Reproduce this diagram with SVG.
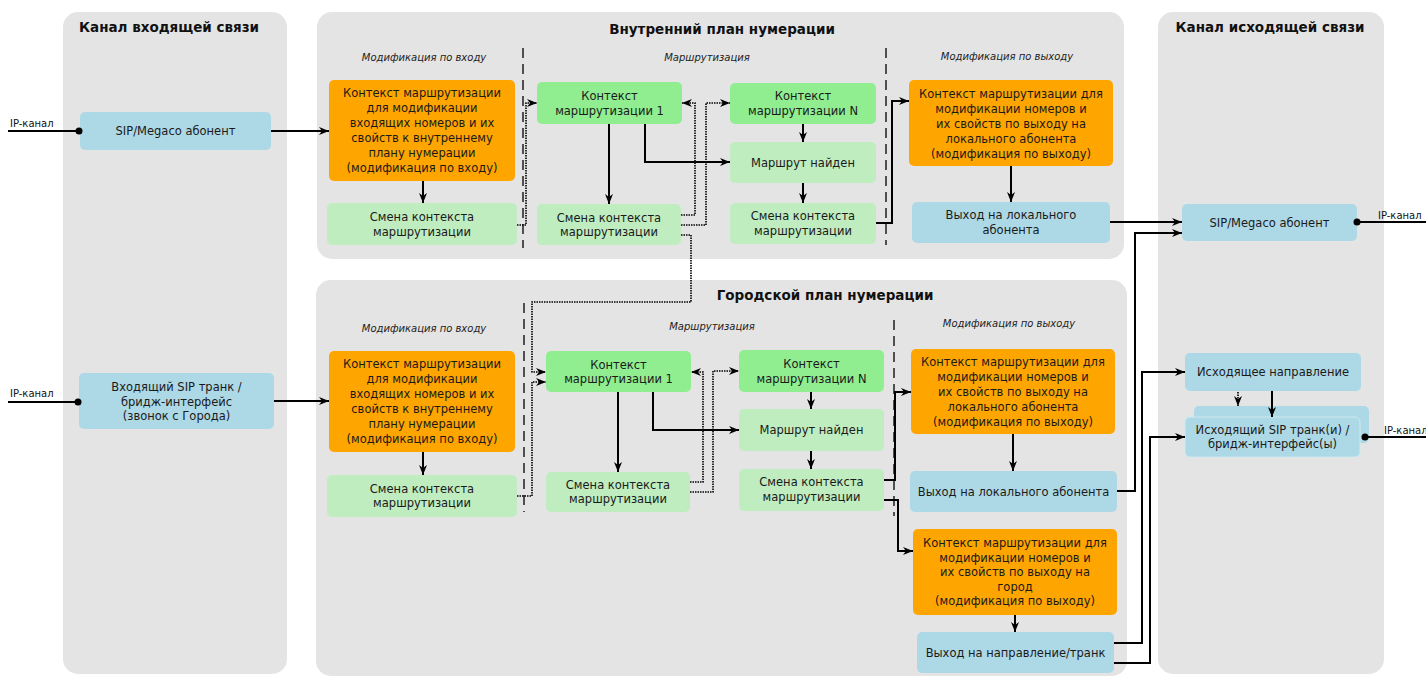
<svg xmlns="http://www.w3.org/2000/svg" width="1426" height="679" viewBox="0 0 1426 679">
  <defs>
    <style>
      .panel { fill: #e4e4e4; }
      .title { font-family: "DejaVu Sans", "Liberation Sans", sans-serif; font-weight: bold; font-size: 13.5px; fill: #111; text-anchor: middle; }
      .sect { font-family: "DejaVu Sans", "Liberation Sans", sans-serif; font-style: italic; font-size: 10px; fill: #222; text-anchor: middle; }
      .lbl { font-family: "DejaVu Sans", "Liberation Sans", sans-serif; font-size: 11.5px; fill: #1a1a1a; text-anchor: middle; }
      .ip { font-family: "DejaVu Sans", "Liberation Sans", sans-serif; font-size: 10px; fill: #111; }
      .orange { fill: #ffa500; }
      .green { fill: #90ee90; }
      .pale { fill: #c0edc0; }
      .blue { fill: #add8e6; }
      .sep { stroke: #111; stroke-width: 1.4; stroke-dasharray: 10 6; fill: none; }
      .wire { stroke: #000; stroke-width: 2; fill: none; }
      .flow { stroke: #000; stroke-width: 2; fill: none; marker-end: url(#arr); }
      .jump { stroke: #000; stroke-width: 1.6; stroke-dasharray: 1.5 1; fill: none; marker-end: url(#arr); }
    </style>
    <marker id="arr" viewBox="0 0 10 10" refX="10" refY="5" markerWidth="10" markerHeight="10" markerUnits="userSpaceOnUse" orient="auto">
      <path d="M0,1 L10,5 L0,9 L3,5 z" fill="#000"/>
    </marker>
  </defs>

  <rect width="1426" height="679" fill="#ffffff"/>

  <!-- swimlane panels -->
  <g id="lanes">
    <rect class="panel" x="63" y="12" width="224" height="662" rx="15"/>
    <rect class="panel" x="317" y="12" width="807" height="247" rx="15"/>
    <rect class="panel" x="316" y="280" width="811" height="396" rx="15"/>
    <rect class="panel" x="1158" y="12" width="226" height="662" rx="15"/>
    <text class="title" x="169" y="32">Канал входящей связи</text>
    <text class="title" x="722" y="34">Внутренний план нумерации</text>
    <text class="title" x="825" y="300">Городской план нумерации</text>
    <text class="title" x="1270" y="32">Канал исходящей связи</text>
    <text class="sect" x="424" y="61">Модификация по входу</text>
    <text class="sect" x="707" y="61">Маршрутизация</text>
    <text class="sect" x="1007" y="60">Модификация по выходу</text>
    <text class="sect" x="424" y="332">Модификация по входу</text>
    <text class="sect" x="712" y="330">Маршрутизация</text>
    <text class="sect" x="1009" y="327">Модификация по выходу</text>
    <line class="sep" x1="523" y1="48" x2="523" y2="248"/>
    <line class="sep" x1="886" y1="48" x2="886" y2="245"/>
    <line class="sep" x1="524" y1="303" x2="524" y2="512"/>
    <line class="sep" x1="894" y1="320" x2="894" y2="516"/>
  </g>

  <!-- incoming channel -->
  <g id="in-sip">
    <rect class="blue" x="80" y="112" width="191" height="38" rx="5"/>
    <text class="lbl" x="175.5" y="135">SIP/Megaco абонент</text>
  </g>
  <g id="in-trunk">
    <rect class="blue" x="79" y="373" width="195" height="56" rx="5"/>
    <text class="lbl" x="176.5" y="391">Входящий SIP транк /</text>
    <text class="lbl" x="176.5" y="405.5">бридж-интерфейс</text>
    <text class="lbl" x="176.5" y="420">(звонок с Города)</text>
  </g>

  <!-- internal numbering plan -->
  <g id="int-mod-in">
    <rect class="orange" x="329" y="80" width="186" height="101" rx="5"/>
    <text class="lbl" x="422" y="97">Контекст маршрутизации</text>
    <text class="lbl" x="422" y="112">для модификации</text>
    <text class="lbl" x="422" y="127">входящих номеров и их</text>
    <text class="lbl" x="422" y="142">свойств к внутреннему</text>
    <text class="lbl" x="422" y="157">плану нумерации</text>
    <text class="lbl" x="422" y="172">(модификация по входу)</text>
  </g>
  <g id="int-switch-in">
    <rect class="pale" x="327" y="203" width="190" height="42" rx="5"/>
    <text class="lbl" x="422" y="221">Смена контекста</text>
    <text class="lbl" x="422" y="236">маршрутизации</text>
  </g>
  <g id="int-ctx-1">
    <rect class="green" x="537" y="82" width="145" height="42" rx="5"/>
    <text class="lbl" x="609.5" y="100">Контекст</text>
    <text class="lbl" x="609.5" y="115">маршрутизации 1</text>
  </g>
  <g id="int-switch-1">
    <rect class="pale" x="537" y="204" width="144" height="41" rx="5"/>
    <text class="lbl" x="609" y="222">Смена контекста</text>
    <text class="lbl" x="609" y="236">маршрутизации</text>
  </g>
  <g id="int-ctx-n">
    <rect class="green" x="730" y="83" width="146" height="41" rx="5"/>
    <text class="lbl" x="803" y="100">Контекст</text>
    <text class="lbl" x="803" y="115">маршрутизации N</text>
  </g>
  <g id="int-found">
    <rect class="pale" x="730" y="142" width="146" height="41" rx="5"/>
    <text class="lbl" x="803" y="166.5">Маршрут найден</text>
  </g>
  <g id="int-switch-n">
    <rect class="pale" x="730" y="203" width="146" height="41" rx="5"/>
    <text class="lbl" x="803" y="220">Смена контекста</text>
    <text class="lbl" x="803" y="235">маршрутизации</text>
  </g>
  <g id="int-mod-out">
    <rect class="orange" x="909" y="80" width="204" height="86" rx="5"/>
    <text class="lbl" x="1011" y="98">Контекст маршрутизации для</text>
    <text class="lbl" x="1011" y="113">модификации номеров и</text>
    <text class="lbl" x="1011" y="128">их свойств по выходу на</text>
    <text class="lbl" x="1011" y="143">локального абонента</text>
    <text class="lbl" x="1011" y="158">(модификация по выходу)</text>
  </g>
  <g id="int-exit-local">
    <rect class="blue" x="912" y="202" width="198" height="41" rx="5"/>
    <text class="lbl" x="1011" y="219">Выход на локального</text>
    <text class="lbl" x="1011" y="234">абонента</text>
  </g>

  <!-- city numbering plan -->
  <g id="city-mod-in">
    <rect class="orange" x="329" y="351" width="186" height="101" rx="5"/>
    <text class="lbl" x="422" y="368">Контекст маршрутизации</text>
    <text class="lbl" x="422" y="383">для модификации</text>
    <text class="lbl" x="422" y="398">входящих номеров и их</text>
    <text class="lbl" x="422" y="413">свойств к внутреннему</text>
    <text class="lbl" x="422" y="428">плану нумерации</text>
    <text class="lbl" x="422" y="443">(модификация по входу)</text>
  </g>
  <g id="city-switch-in">
    <rect class="pale" x="327" y="475" width="190" height="42" rx="5"/>
    <text class="lbl" x="422" y="493">Смена контекста</text>
    <text class="lbl" x="422" y="507">маршрутизации</text>
  </g>
  <g id="city-ctx-1">
    <rect class="green" x="546" y="351" width="145" height="41" rx="5"/>
    <text class="lbl" x="618.5" y="368.5">Контекст</text>
    <text class="lbl" x="618.5" y="383">маршрутизации 1</text>
  </g>
  <g id="city-switch-1">
    <rect class="pale" x="546" y="472" width="144" height="40" rx="5"/>
    <text class="lbl" x="618" y="489">Смена контекста</text>
    <text class="lbl" x="618" y="503">маршрутизации</text>
  </g>
  <g id="city-ctx-n">
    <rect class="green" x="739" y="350" width="145" height="42" rx="5"/>
    <text class="lbl" x="811.5" y="368">Контекст</text>
    <text class="lbl" x="811.5" y="383">маршрутизации N</text>
  </g>
  <g id="city-found">
    <rect class="pale" x="739" y="409" width="145" height="42" rx="5"/>
    <text class="lbl" x="811.5" y="434">Маршрут найден</text>
  </g>
  <g id="city-switch-n">
    <rect class="pale" x="739" y="469" width="145" height="42" rx="5"/>
    <text class="lbl" x="811.5" y="486">Смена контекста</text>
    <text class="lbl" x="811.5" y="501">маршрутизации</text>
  </g>
  <g id="city-mod-out-local">
    <rect class="orange" x="911" y="349" width="204" height="85" rx="5"/>
    <text class="lbl" x="1013" y="366">Контекст маршрутизации для</text>
    <text class="lbl" x="1013" y="381">модификации номеров и</text>
    <text class="lbl" x="1013" y="396">их свойств по выходу на</text>
    <text class="lbl" x="1013" y="411">локального абонента</text>
    <text class="lbl" x="1013" y="426">(модификация по выходу)</text>
  </g>
  <g id="city-exit-local">
    <rect class="blue" x="910" y="471" width="207" height="41" rx="5"/>
    <text class="lbl" x="1013.5" y="495.5">Выход на локального абонента</text>
  </g>
  <g id="city-mod-out-city">
    <rect class="orange" x="913" y="529" width="204" height="86" rx="5"/>
    <text class="lbl" x="1015" y="547">Контекст маршрутизации для</text>
    <text class="lbl" x="1015" y="561.5">модификации номеров и</text>
    <text class="lbl" x="1015" y="576">их свойств по выходу на</text>
    <text class="lbl" x="1015" y="590.5">город</text>
    <text class="lbl" x="1015" y="605">(модификация по выходу)</text>
  </g>
  <g id="city-exit-trunk">
    <rect class="blue" x="917" y="632" width="197" height="41" rx="5"/>
    <text class="lbl" x="1015.5" y="656.5">Выход на направление/транк</text>
  </g>

  <!-- outgoing channel -->
  <g id="out-sip">
    <rect class="blue" x="1182" y="204" width="175" height="37" rx="5"/>
    <text class="lbl" x="1269.5" y="226.5">SIP/Megaco абонент</text>
  </g>
  <g id="out-direction">
    <rect class="blue" x="1185" y="353" width="176" height="38" rx="5"/>
    <text class="lbl" x="1273" y="376">Исходящее направление</text>
  </g>
  <g id="out-trunk">
    <rect class="blue" x="1194" y="406" width="175" height="37" rx="5"/>
    <rect class="blue" x="1185" y="417" width="175" height="40" rx="5" stroke="#cfe9f1" stroke-width="1"/>
    <text class="lbl" x="1272.5" y="433.5">Исходящий SIP транк(и) /</text>
    <text class="lbl" x="1272.5" y="448">бридж-интерфейс(ы)</text>
  </g>

  <!-- connectors -->
  <g id="connectors">
    <!-- IP channel terminals -->
    <line class="wire" x1="8" y1="131" x2="79" y2="131"/>
    <circle cx="79" cy="131" r="3.5" fill="#000"/>
    <text class="ip" x="10" y="127">IP-канал</text>
    <line class="wire" x1="8" y1="402" x2="78" y2="402"/>
    <circle cx="78" cy="402" r="3.5" fill="#000"/>
    <text class="ip" x="10" y="397">IP-канал</text>
    <line class="wire" x1="1357" y1="222" x2="1426" y2="222"/>
    <circle cx="1357" cy="222" r="3.5" fill="#000"/>
    <text class="ip" x="1378" y="219">IP-канал</text>
    <line class="wire" x1="1365" y1="437" x2="1426" y2="437"/>
    <circle cx="1365" cy="437" r="3.5" fill="#000"/>
    <text class="ip" x="1384" y="434">IP-канал</text>

    <!-- internal plan flow -->
    <path class="flow" d="M271,131 H329"/>
    <path class="flow" d="M423,181 V203"/>
    <path class="flow" d="M609,124 V204"/>
    <path class="flow" d="M645,124 V162 H730"/>
    <path class="flow" d="M803,124 V142"/>
    <path class="flow" d="M803,183 V203"/>
    <path class="flow" d="M876,223 H892 V101 H909"/>
    <path class="flow" d="M1011,166 V202"/>
    <path class="flow" d="M1110,222 H1182"/>

    <!-- internal plan context jumps -->
    <path class="jump" d="M517,225 H526 V103 H537"/>
    <path class="jump" d="M681,215 H695 V103 H682"/>
    <path class="jump" d="M681,225 H706 V103 H730"/>
    <path class="jump" d="M681,235 H691 V302 H532 V372 H546"/>

    <!-- city plan flow -->
    <path class="flow" d="M274,401 H329"/>
    <path class="flow" d="M423,452 V475"/>
    <path class="flow" d="M618,392 V472"/>
    <path class="flow" d="M653,392 V430 H739"/>
    <path class="flow" d="M811,392 V409"/>
    <path class="flow" d="M811,451 V469"/>
    <path class="flow" d="M884,480 H895 V392 H911"/>
    <path class="flow" d="M884,500 H898 V551 H913"/>
    <path class="flow" d="M1013,434 V471"/>
    <path class="flow" d="M1015,615 V632"/>
    <path class="flow" d="M1117,491 H1135 V233 H1182"/>
    <path class="flow" d="M1114,643 H1142 V372 H1185"/>
    <path class="flow" d="M1114,663 H1150 V437 H1185"/>

    <!-- city plan context jumps -->
    <path class="jump" d="M517,496 H532 V382 H546"/>
    <path class="jump" d="M690,482 H703 V372 H691"/>
    <path class="jump" d="M690,492 H713 V371 H739"/>

    <!-- outgoing direction to trunks -->
    <path class="flow" d="M1272,391 V417"/>
    <path class="jump" d="M1238,392 V406"/>
  </g>
</svg>
